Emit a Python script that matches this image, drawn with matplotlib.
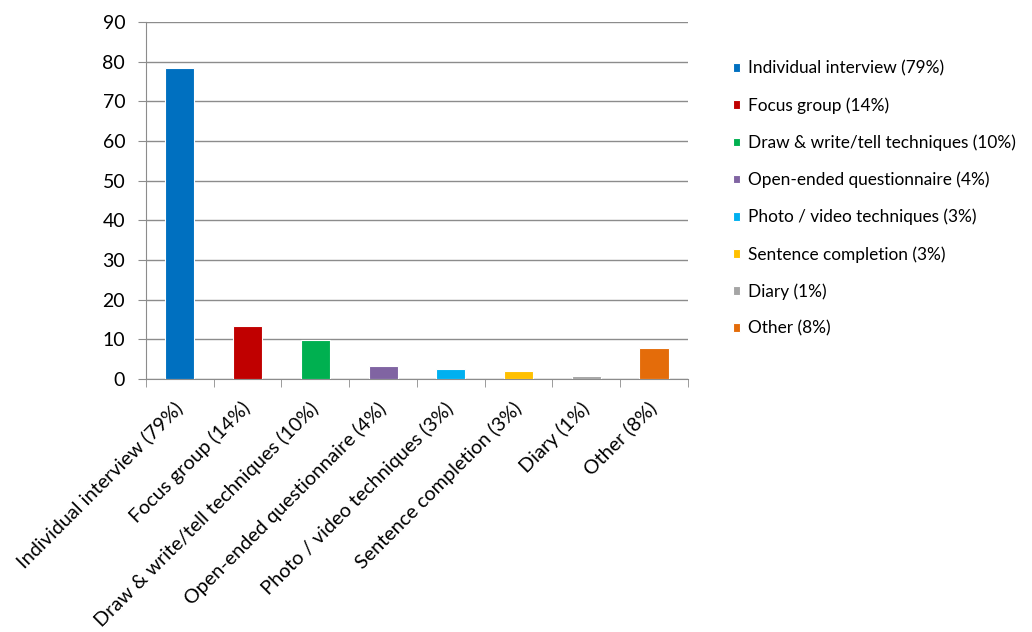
import numpy as np
import matplotlib.pyplot as plt
from matplotlib.ticker import FixedLocator, NullFormatter

plt.rcParams['font.family'] = ['Lato', 'DejaVu Sans']

methods = ['Individual interview (79%)', 'Focus group (14%)',
           'Draw & write/tell techniques (10%)', 'Open-ended questionnaire (4%)',
           'Photo / video techniques (3%)', 'Sentence completion (3%)',
           'Diary (1%)', 'Other (8%)']
values = [78.3, 13.4, 9.8, 3.2, 2.5, 2.1, 0.75, 7.7]
colors = ['#0070C0', '#C00000', '#00B050', '#8064A2',
          '#00B0F0', '#FFC000', '#A5A5A5', '#E46C0A']

fig = plt.figure(figsize=(10.32, 6.32), dpi=100)
ax = fig.add_axes([0.1415, 0.4003, 0.525, 0.5649])

x = np.arange(len(methods))
bars = ax.bar(x, values, width=0.43, color=colors, edgecolor='white',
              linewidth=0.8, zorder=3, label=methods)

ax.set_xlim(-0.5, len(methods) - 0.5)
ax.set_ylim(0, 90)
ax.set_yticks(range(0, 91, 10))
ax.yaxis.grid(True, color='#8c8c8c', linewidth=1, zorder=0)
ax.tick_params(axis='y', labelsize=14, length=6, color='#8c8c8c', pad=9)

# category labels at the bar centres, tick marks on the boundaries
ax.set_xticks(x)
ax.set_xticklabels(methods, rotation=45, ha='right', va='center',
                   rotation_mode='anchor', fontsize=14.3)
ax.tick_params(axis='x', length=0, pad=19)
ax.xaxis.set_minor_locator(FixedLocator(np.arange(-0.5, len(methods), 1)))
ax.xaxis.set_minor_formatter(NullFormatter())
ax.tick_params(axis='x', which='minor', length=6, color='#8c8c8c')

for side in ['top', 'right']:
    ax.spines[side].set_visible(False)
for side in ['left', 'bottom']:
    ax.spines[side].set_color('#8c8c8c')

fig.legend(handles=list(bars), labels=methods, loc='upper left',
           bbox_to_anchor=(0.702, 0.918), frameon=False, fontsize=12.4,
           handlelength=0.4, handleheight=0.4, handletextpad=0.45,
           labelspacing=1.2, borderpad=0)

plt.savefig('out.png', dpi=100)
